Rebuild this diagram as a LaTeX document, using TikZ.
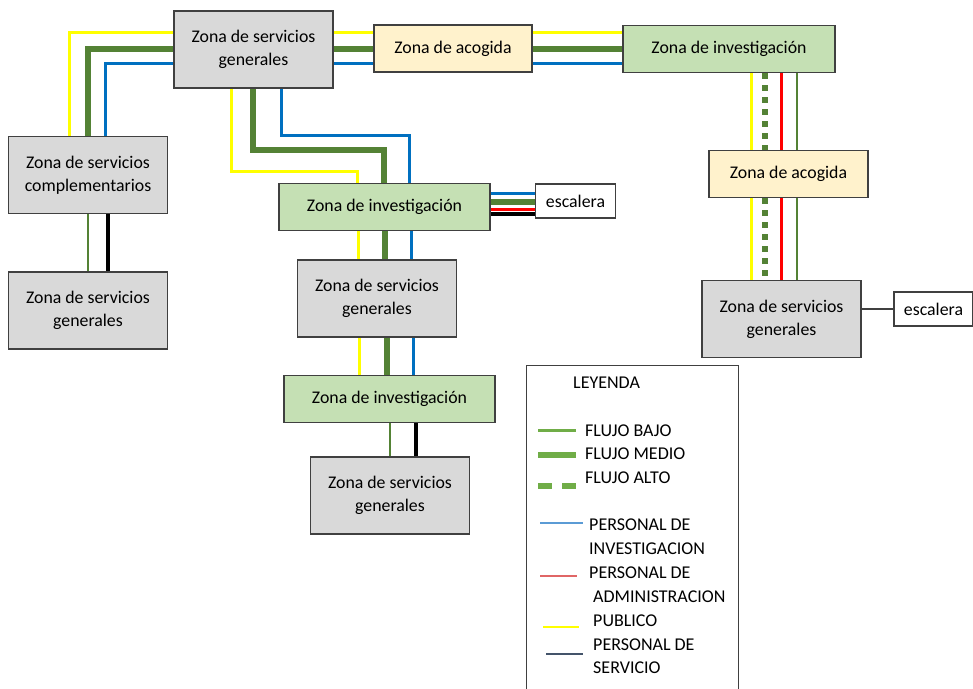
\documentclass[tikz,border=0pt]{standalone}
\usepackage{fontspec}
\setmainfont{Carlito}
\usetikzlibrary{backgrounds,positioning}
\definecolor{gris}{HTML}{D9D9D9}
\definecolor{crema}{HTML}{FFF2CC}
\definecolor{verdec}{HTML}{C5E0B4}
\definecolor{borde}{HTML}{404040}
\definecolor{verde}{HTML}{548235}
\definecolor{verdel}{HTML}{70AD47}
\definecolor{amarillo}{HTML}{FFFF00}
\definecolor{azul}{HTML}{0070C0}
\definecolor{azull}{HTML}{5B9BD5}
\definecolor{rojo}{HTML}{FF0000}
\definecolor{rojol}{HTML}{E06666}
\definecolor{grisos}{HTML}{44546A}

\begin{document}
\begin{tikzpicture}
[x=1pt,y=-1pt,
zona/.style={draw=borde,line width=1.2pt,align=center,inner sep=0pt,
	font=\fontsize{17.8}{23}\selectfont},
zsg/.style={zona,fill=gris,minimum width=159pt,minimum height=77pt},
zaco/.style={zona,fill=crema,minimum width=158pt,minimum height=47pt},
zinv/.style={zona,fill=verdec,minimum width=211pt,minimum height=47pt},
zesc/.style={zona,fill=white,minimum width=80pt,minimum height=34pt},
fbajo/.style={draw=verde,line width=2.5pt},
fmedio/.style={draw=verde,line width=6pt},
falto/.style={draw=verde,line width=5.5pt,dash pattern=on 5.5pt off 6.5pt},
pinv/.style={draw=azul,line width=3pt},
padm/.style={draw=rojo,line width=3pt},
ppub/.style={draw=amarillo,line width=3pt},
pser/.style={draw=black,line width=3.5pt},
ltxt/.style={anchor=west,inner sep=0pt,font=\fontsize{18}{20}\selectfont}]

\clip (0,0) rectangle (973,688);

\node[zsg] (sgA) at (253.5,49.5) {Zona de servicios\\generales};
\node[zaco] (acoA) at (453,48.5) {Zona de acogida};
\node[zinv,minimum width=212pt] (invA) at (729,49) {Zona de investigación};
\node[zsg] (comp) at (88,175) {Zona de servicios\\complementarios};
\node[zsg] (sgB) at (88,310.5) {Zona de servicios\\generales};
\node[zinv] (invB) at (384.5,207) {Zona de investigación};
\node[zesc] (escA) at (575.5,201) {escalera};
\node[zsg] (sgC) at (377,298.5) {Zona de servicios\\generales};
\node[zinv] (invC) at (389.5,399) {Zona de investigación};
\node[zsg] (sgD) at (390,495.5) {Zona de servicios\\generales};
\node[zaco,minimum width=159pt] (acoB) at (788.5,174) {Zona de acogida};
\node[zsg] (sgE) at (781.5,319) {Zona de servicios\\generales};
\node[zesc,minimum width=79pt] (escB) at (933.5,309) {escalera};

\begin{scope}[on background layer]
\draw[ppub] (sgA.west |- 0,32) -| (comp.north -| 69,0);
\draw[fmedio] (sgA.west |- 0,49) -| (comp.north);
\draw[pinv] (sgA.west |- 0,63) -| (comp.north -| 105,0);

\foreach \a/\b in {sgA/acoA,acoA/invA}{
	\draw[ppub] (\a.east |- 0,32) -- (\b.west |- 0,32);
	\draw[fmedio] (\a.east |- 0,49) -- (\b.west |- 0,49);
	\draw[pinv] (\a.east |- 0,63) -- (\b.west |- 0,63);
}

\draw[ppub] (sgA.south -| 231,0) |- (357,171) -- (invB.north -| 357,0);
\draw[fmedio] (sgA.south -| 253,0) |- (384,150) -- (invB.north -| 384,0);
\draw[pinv] (sgA.south -| 281,0) |- (409,135) -- (invB.north -| 409,0);

\draw[ppub] (invB.south -| 358,0) -- (sgC.north -| 358,0);
\draw[fmedio] (invB.south -| 385,0) -- (sgC.north -| 385,0);
\draw[pinv] (invB.south -| 411,0) -- (sgC.north -| 411,0);

\draw[ppub] (sgC.south -| 359,0) -- (invC.north -| 359,0);
\draw[fmedio] (sgC.south -| 387,0) -- (invC.north -| 387,0);
\draw[pinv] (sgC.south -| 413,0) -- (invC.north -| 413,0);

\draw[fbajo] (invC.south -| 390,0) -- (sgD.north -| 390,0);
\draw[pser] (invC.south -| 416,0) -- (sgD.north -| 416,0);

\draw[pinv] (invB.east |- 0,193) -- (escA.west |- 0,193);
\draw[fmedio] (invB.east |- 0,202) -- (escA.west |- 0,202);
\draw[padm] (invB.east |- 0,209) -- (escA.west |- 0,209);
\draw[pser] (invB.east |- 0,214) -- (escA.west |- 0,214);

\foreach \a/\b in {invA/acoB,acoB/sgE}{
	\draw[ppub] (\a.south -| 751,0) -- (\b.north -| 751,0);
	\draw[falto] (\a.south -| 765,0) -- (\b.north -| 765,0);
	\draw[padm] (\a.south -| 781,0) -- (\b.north -| 781,0);
	\draw[fbajo] (\a.south -| 797,0) -- (\b.north -| 797,0);
}

\draw[borde,line width=1.3pt] (sgE.east |- escB.west) -- (escB.west);

\draw[fbajo] (comp.south) -- (sgB.north);
\draw[pser] (comp.south -| 108,0) -- (sgB.north -| 108,0);
\end{scope}

\node[draw=borde,line width=1pt,minimum width=212pt,minimum height=340pt] (ley) at (632,535) {};
\node[ltxt] (lyd) at (573,383) {LEYENDA};
\node[ltxt] (fb) at (585,431) {FLUJO BAJO};
\node[ltxt] (fm) at (585,454) {FLUJO MEDIO};
\node[ltxt] (fa) at (585,478) {FLUJO ALTO};
\node[ltxt] (pi1) at (589,525) {PERSONAL DE};
\node[ltxt] (pi2) at (589,549) {INVESTIGACION};
\node[ltxt] (pa1) at (589,573) {PERSONAL DE};
\node[ltxt] (pa2) at (593,597) {ADMINISTRACION};
\node[ltxt] (pp) at (593,621) {PUBLICO};
\node[ltxt] (ps1) at (593,645) {PERSONAL DE};
\node[ltxt] (ps2) at (593,668) {SERVICIO};

\draw[verdel,line width=3pt] (538,430) -- (576,430);
\draw[verdel,line width=6pt] (538,455) -- (576,455);
\draw[verdel,line width=6pt,dash pattern=on 14pt off 10pt] (538,486) -- (576,486);
\draw[azull,line width=1.5pt] (540,523) -- (583,523);
\draw[rojol,line width=1.5pt] (540,576) -- (577,576);
\draw[amarillo,line width=1.5pt] (543,627) -- (579,627);
\draw[grisos,line width=1.5pt] (546,654) -- (583,654);

\end{tikzpicture}
\end{document}
